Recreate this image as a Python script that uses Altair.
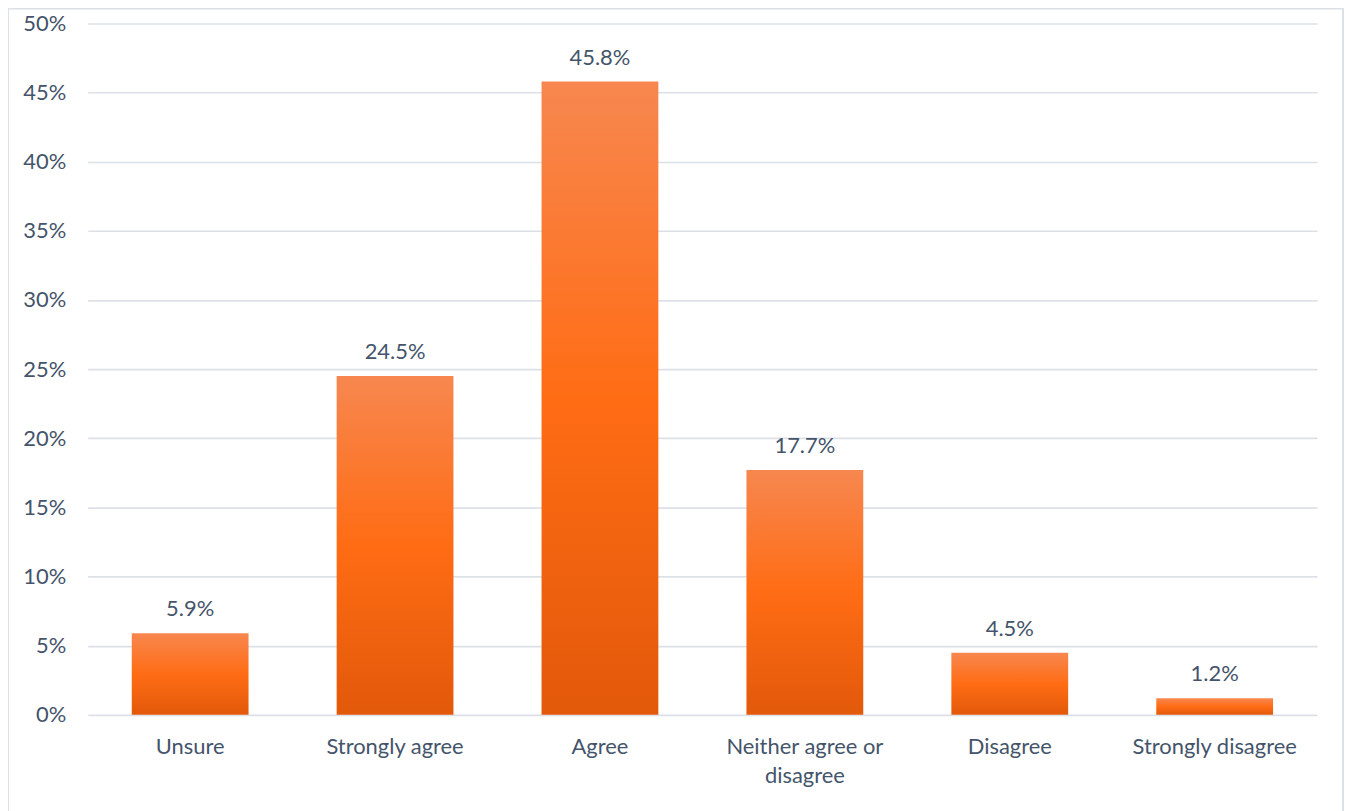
import altair as alt
import pandas as pd

categories = ["Unsure", "Strongly agree", "Agree", "Neither agree or disagree", "Disagree", "Strongly disagree"]
values = [0.059, 0.245, 0.458, 0.177, 0.045, 0.012]
labels = ["5.9%", "24.5%", "45.8%", "17.7%", "4.5%", "1.2%"]
y_ticks = [0, 0.05, 0.10, 0.15, 0.20, 0.25, 0.30, 0.35, 0.40, 0.45, 0.50]

df = pd.DataFrame({"cat": categories, "val": values, "lab": labels})

TXT = "#44546A"
GRID = "#DCE0E7"
FONT = "Lato"
FS = 22

x_enc = alt.X("cat:N", sort=categories,
              scale=alt.Scale(paddingInner=0.43, paddingOuter=0.215),
              axis=alt.Axis(title=None, labelAngle=0, ticks=False, domain=False, grid=False,
                            labelPadding=22, labelFontSize=FS, labelColor=TXT, labelFont=FONT,
                            labelLineHeight=29, labelLimit=300,
                            labelExpr="datum.label == 'Neither agree or disagree' ? ['Neither agree or', 'disagree'] : datum.label"))
y_enc = alt.Y("val:Q", scale=alt.Scale(domain=[0, 0.5], nice=False),
              axis=alt.Axis(title=None, values=y_ticks, format=".0%", ticks=False, domain=False,
                            labelPadding=22, labelFontSize=FS, labelColor=TXT, labelFont=FONT,
                            gridColor=GRID, gridWidth=1.6))

grad = alt.Gradient(gradient="linear", x1=0, y1=0, x2=0, y2=1,
                    stops=[alt.GradientStop(color="#F7874F", offset=0),
                           alt.GradientStop(color="#FF6C14", offset=0.5),
                           alt.GradientStop(color="#E2590A", offset=1)])

base = alt.Chart(df)
bars = base.mark_bar(color=grad).encode(x=x_enc, y=y_enc)
text = base.mark_text(baseline="alphabetic", dy=-17, fontSize=FS, color=TXT, font=FONT).encode(
    x=alt.X("cat:N", sort=categories), y="val:Q", text="lab:N")

border = alt.Chart(pd.DataFrame({"a": [0]})).mark_rect(
    fill=None, stroke="#DCE0E7", strokeWidth=2, clip=False).encode(
    x=alt.value(-80), x2=alt.value(1260), y=alt.value(-15), y2=alt.value(820))

chart = alt.layer(border, bars, text).properties(
    width=1234, height=694,
    autosize=alt.AutoSizeParams(type="none"),
    padding={"left": 80, "top": 14, "right": 30, "bottom": 100},
).configure(background="white").configure_view(stroke=None)

chart.save("out.html", embed_options={"renderer": "svg", "actions": False})
